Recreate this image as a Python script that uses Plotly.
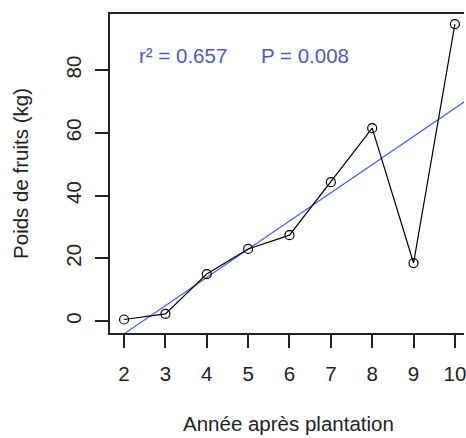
import numpy as np
import plotly.graph_objects as go

# Data
annees = [2, 3, 4, 5, 6, 7, 8, 9, 10]
poids = [0.5, 2.3, 15.0, 23.0, 27.4, 44.3, 61.5, 18.5, 94.7]
x_ticks = [2, 3, 4, 5, 6, 7, 8, 9, 10]
y_ticks = [0, 20, 40, 60, 80]
stats_r2 = "r² = 0.657"
stats_p = "P = 0.008"

# linear regression (abline)
pente, origine = np.polyfit(annees, poids, 1)
x_range = [1.66, 10.22]
x_fit = np.array([1.0, 11.0])
y_fit = origine + pente * x_fit

font = dict(family="Liberation Sans, Arial, sans-serif", size=20.5, color="#222222")

fig = go.Figure()
fig.add_trace(go.Scatter(x=x_fit, y=y_fit, mode="lines",
                         line=dict(color="#4563c8", width=1.2), showlegend=False))
fig.add_trace(go.Scatter(x=annees, y=poids, mode="lines+markers",
                         line=dict(color="black", width=1.2),
                         marker=dict(symbol="circle-open", size=9, color="black",
                                     line=dict(width=1.2)),
                         showlegend=False, cliponaxis=False))

fig.update_layout(
    width=466, height=438,
    margin=dict(l=110, r=0, t=14, b=105),
    plot_bgcolor="white", paper_bgcolor="white",
    font=font,
    xaxis=dict(range=x_range, tickvals=x_ticks, showgrid=False, zeroline=False,
               showline=True, mirror=True, linecolor="#222222", linewidth=1.5,
               ticks="outside", ticklen=13, tickwidth=1.5, tickcolor="#222222",
               ticklabelstandoff=9, ticklabeloverflow="allow"),
    yaxis=dict(range=[-3.8, 97.9], tickvals=y_ticks, showgrid=False, zeroline=False,
               showline=True, mirror=False, linecolor="#222222", linewidth=1.5,
               ticks="outside", ticklen=13, tickwidth=1.5, tickcolor="#222222",
               tickangle=-90, ticklabelstandoff=6),
)

# axis titles as annotations (R-style placement)
fig.add_annotation(text="Année après plantation", xref="paper", yref="paper",
                   x=0.5056, y=-0.285, xanchor="center", yanchor="middle",
                   showarrow=False, font=font)
fig.add_annotation(text="Poids de fruits (kg)", xref="paper", yref="paper",
                   x=-0.253, y=0.5, xanchor="center", yanchor="middle",
                   textangle=-90, showarrow=False, font=font)

# statistics text
blue_font = dict(family="Liberation Sans, Arial, sans-serif", size=20.5, color="#4a5cb8")
fig.add_annotation(text=stats_r2, xref="x", yref="y", x=2.31, y=84.8,
                   xanchor="left", yanchor="middle", showarrow=False, font=blue_font)
fig.add_annotation(text=stats_p, xref="x", yref="y", x=5.27, y=84.8,
                   xanchor="left", yanchor="middle", showarrow=False, font=blue_font)

fig.write_html("out.html", config={"displayModeBar": False},
               post_script="document.body.style.margin='0';")
